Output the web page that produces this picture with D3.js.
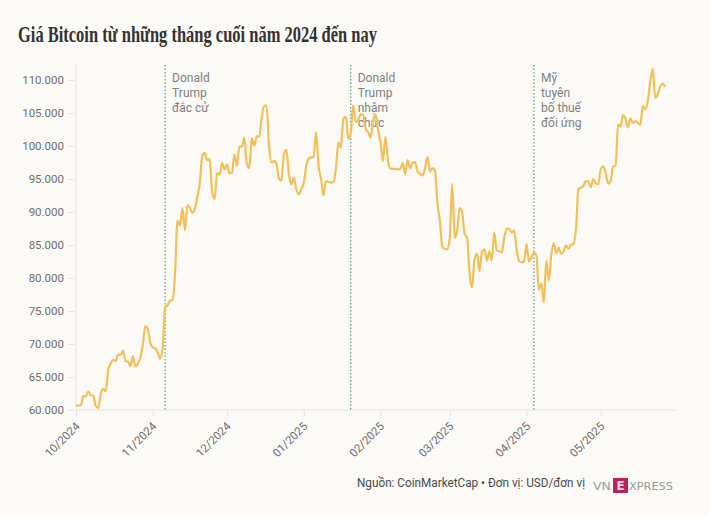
<!DOCTYPE html>
<html>
<head>
<meta charset="utf-8">
<script src="https://cdn.jsdelivr.net/npm/d3@7"></script>
<style>
  body { margin: 0; background: #fbfaf7; }
  svg { display: block; }
</style>
</head>
<body>
<script>
var width = 709;
var height = 516;

// daily close, from 01/10/2024
var startDate = "2024-10-01";
var prices = [
    // 10/2024
    60800, 60650, 60750, 62100, 62050, 62800, 62250, 62150, 60600, 60300, 62450, 63200, 62850, 66050, 67050, 67600,
    67400, 68400, 68350, 69000, 67400, 67350, 66650, 68150, 66600, 67000, 67950, 69900, 72700, 72350, 70200,
    // 11/2024
    69500, 69350, 68750, 67800, 69350, 75600, 75900, 76550, 76700, 80450, 88700, 87950, 90600, 87250, 91050,
    90600, 89850, 90450, 92300, 94300, 98500, 98950, 97800, 98050, 93100, 91950, 95950, 95650, 97450, 96450,
    // 12/2024
    97200, 95850, 96000, 98750, 97000, 99900, 99900, 101200, 97400, 96650, 101200, 100000, 101450, 101400, 104300,
    106050, 106150, 100050, 97500, 97750, 97250, 95100, 94700, 98700, 99400, 95800, 94200, 95200, 93400, 92650, 93450,
    // 01/2025
    94400, 96900, 98100, 98250, 98300, 102100, 96950, 95050, 92500, 94700, 94550, 94500, 94500, 96550, 100500,
    99750, 104100, 104450, 101100, 102000, 106150, 103650, 103950, 104800, 104700, 102600, 102100, 101300, 103700, 104750, 102400,
    // 02/2025
    100650, 97700, 101400, 97900, 96600, 96550, 96500, 96450, 96500, 97400, 95750, 97850, 96600, 97500,
    97550, 96100, 95800, 95550, 96600, 98300, 96150, 96600, 96300, 91400, 88700, 84700, 84400, 84350,
    // 03/2025
    86050, 94250, 86100, 87200, 90600, 89950, 86700, 86150, 80650, 78550, 82850, 83700, 81050, 83950, 84350,
    82600, 84050, 82700, 86850, 84150, 84050, 83850, 86050, 87500, 87450, 86900, 87200, 84350, 82600, 82350, 82550,
    // 04/2025
    85150, 82500, 83100, 83850, 83500, 78200, 79150, 76300, 82600, 79600, 83400, 85300, 83750, 84550, 83650,
    84050, 84900, 84450, 85050, 85150, 87500, 93450, 93700, 93950, 94700, 94650, 93750, 95000, 94300, 94200,
    // 05/2025
    96500, 96900, 95900, 94300, 94750, 96850, 97050, 103250, 102950, 104700, 104150, 102800, 104200, 103500,
    103750, 103500, 103200, 106050, 105600, 106800, 109700, 111700, 107300, 107800, 109000, 109450, 108950
];

var monthTicks = ["2024-10-01", "2024-11-01", "2024-12-01", "2025-01-01", "2025-02-01", "2025-03-01", "2025-04-01", "2025-05-01"];
var monthLabels = ["10/2024", "11/2024", "12/2024", "01/2025", "02/2025", "03/2025", "04/2025", "05/2025"];
var priceTicks = [60000, 65000, 70000, 75000, 80000, 85000, 90000, 95000, 100000, 105000, 110000];

var eventDates = ["2024-11-06", "2025-01-20", "2025-04-04"];
var eventLabels = [["Donald", "Trump", "đắc cử"], ["Donald", "Trump", "nhậm", "chức"], ["Mỹ", "tuyên", "bố thuế", "đối ứng"]];

var parse = d3.timeParse("%Y-%m-%d");
var t0 = parse(startDate);
var data = prices.map(function(p, i) { return { date: d3.timeDay.offset(t0, i), price: p }; });

var vn = d3.formatLocale({ decimal: ",", thousands: ".", grouping: [3], currency: ["", ""] });
var fmt = vn.format(",");

var plot_left = 76, plot_right = 675, plot_top = 65, plot_bottom = 410;

var x = d3.scaleTime()
    .domain([parse("2024-10-01"), parse("2025-05-31")])
    .range([plot_left, plot_right]);

var y = d3.scaleLinear()
    .domain([60000, 110000])
    .range([plot_bottom, 80]);

var svg = d3.select("body")
    .append("svg")
    .attr("width", width)
    .attr("height", height)
    .style("background", "#fbfaf7")
    .style("font-family", "Roboto, sans-serif");

svg.append("text")
    .attr("x", 18)
    .attr("y", 42)
    .attr("font-family", "'Liberation Serif', serif")
    .attr("font-weight", "bold")
    .attr("font-size", "23.5px")
    .attr("fill", "#333333")
    .attr("textLength", 359)
    .attr("lengthAdjust", "spacingAndGlyphs")
    .text("Giá Bitcoin từ những tháng cuối năm 2024 đến nay");

// axis lines
svg.append("line")
    .attr("x1", plot_left).attr("x2", plot_left)
    .attr("y1", plot_top).attr("y2", plot_bottom)
    .attr("stroke", "#e6e4df");
svg.append("line")
    .attr("x1", plot_left).attr("x2", plot_right)
    .attr("y1", plot_bottom).attr("y2", plot_bottom)
    .attr("stroke", "#e6e4df");

var yAxis = svg.append("g")
    .attr("transform", "translate(" + (plot_left - 2) + ",0)")
    .call(d3.axisLeft(y).tickValues(priceTicks).tickFormat(fmt).tickSize(6).tickPadding(4));
yAxis.select(".domain").remove();
yAxis.selectAll("line").attr("stroke", "#e6e4df");
yAxis.selectAll("text")
    .attr("font-family", "Roboto, sans-serif")
    .attr("font-size", "11.5px")
    .attr("fill", "#6e6e6e");

var xAxis = svg.append("g")
    .attr("transform", "translate(0," + plot_bottom + ")")
    .call(d3.axisBottom(x).tickValues(monthTicks.map(parse)).tickFormat(function(d, i) { return monthLabels[i]; }).tickSize(6));
xAxis.select(".domain").remove();
xAxis.selectAll("line").attr("stroke", "#e6e4df");
xAxis.selectAll("text")
    .attr("font-family", "Roboto, sans-serif")
    .attr("font-size", "11.5px")
    .attr("fill", "#6e6e6e")
    .attr("y", 0)
    .attr("dy", 0)
    .attr("text-anchor", "end")
    .attr("transform", "translate(4,17) rotate(-45)");

// event markers
eventDates.forEach(function(d, i) {
    var ex = x(parse(d));
    svg.append("line")
        .attr("x1", ex).attr("x2", ex)
        .attr("y1", plot_top).attr("y2", plot_bottom)
        .attr("stroke", "#3b8a5a")
        .attr("stroke-width", 1)
        .attr("stroke-dasharray", "1.5,2");
    var t = svg.append("text")
        .attr("font-size", "12px")
        .attr("fill", "#808080");
    eventLabels[i].forEach(function(s, j) {
        t.append("tspan")
            .attr("x", ex + 7)
            .attr("y", 82 + j * 15)
            .text(s);
    });
});

var line = d3.line()
    .x(function(d) { return x(d.date); })
    .y(function(d) { return y(d.price); })
    .curve(d3.curveMonotoneX);

svg.append("path")
    .datum(data)
    .attr("d", line)
    .attr("fill", "none")
    .attr("stroke", "#f2c057")
    .attr("stroke-width", 2.2)
    .attr("stroke-linejoin", "round");

// footer
svg.append("text")
    .attr("x", 357)
    .attr("y", 487)
    .attr("font-size", "12px")
    .attr("fill", "#4a4a4a")
    .attr("textLength", 228)
    .attr("lengthAdjust", "spacingAndGlyphs")
    .text("Nguồn: CoinMarketCap • Đơn vị: USD/đơn vị");

var logo = svg.append("g");
logo.append("text")
    .attr("x", 593).attr("y", 490)
    .attr("font-family", "'DejaVu Sans', sans-serif")
    .attr("font-size", "11px")
    .attr("fill", "#9a9a9a")
    .attr("textLength", 18)
    .attr("lengthAdjust", "spacingAndGlyphs")
    .text("VN");
logo.append("rect")
    .attr("x", 613).attr("y", 478)
    .attr("width", 15).attr("height", 15)
    .attr("fill", "#b8235a");
logo.append("text")
    .attr("x", 620.5).attr("y", 490)
    .attr("text-anchor", "middle")
    .attr("font-family", "'DejaVu Sans', sans-serif")
    .attr("font-weight", "bold")
    .attr("font-size", "12px")
    .attr("fill", "#f3d6e0")
    .text("E");
logo.append("text")
    .attr("x", 629).attr("y", 490)
    .attr("font-family", "'DejaVu Sans', sans-serif")
    .attr("font-size", "11px")
    .attr("fill", "#9a9a9a")
    .attr("textLength", 44)
    .attr("lengthAdjust", "spacingAndGlyphs")
    .text("XPRESS");
</script>
</body>
</html>
